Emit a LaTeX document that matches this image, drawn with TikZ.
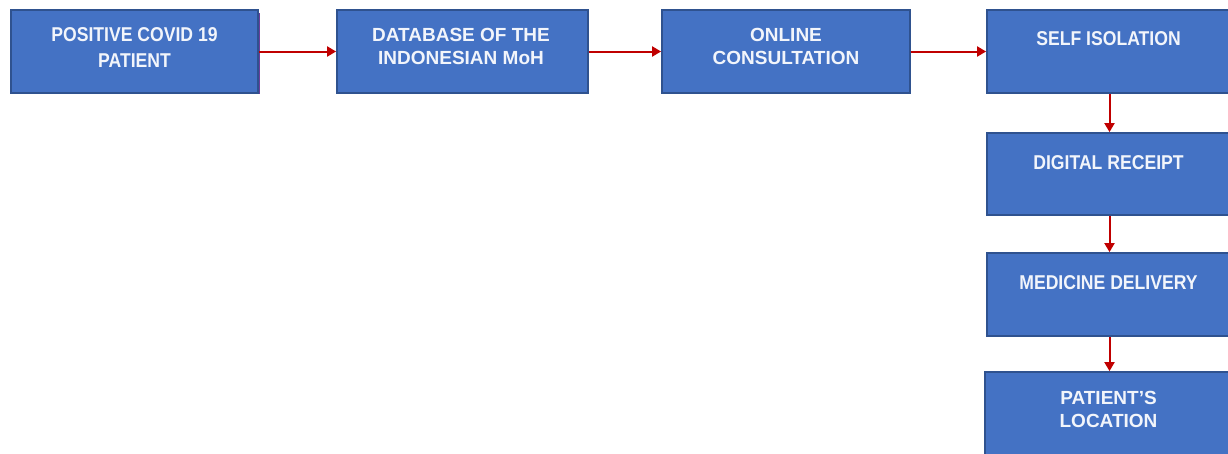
\documentclass[tikz,border=0pt]{standalone}
\usepackage{fontspec}
\setmainfont{Liberation Sans}
\newfontfamily\condfont{Liberation Sans}[FakeStretch=0.88]
\usetikzlibrary{arrows.meta}
\definecolor{boxfill}{HTML}{4472C4}
\definecolor{boxline}{HTML}{2F528F}
\definecolor{arrred}{HTML}{C00000}
\definecolor{txtc}{HTML}{F2F5FB}
\definecolor{shadowc}{HTML}{6A3D9A}
\begin{document}
\begin{tikzpicture}[x=1pt,y=-1pt,
  box/.style={draw=boxline, line width=1.8pt, fill=boxfill, rectangle, inner sep=0pt},
  condtxt/.style={text=txtc, align=center, inner sep=0pt, font=\condfont\bfseries\fontsize{20}{26}\selectfont},
  plaintxt/.style={text=txtc, align=center, inner sep=0pt, font=\bfseries\fontsize{19}{23}\selectfont},
  arr/.style={draw=arrred, line width=2pt, -{Triangle[length=9pt,width=10pt]}}]
\useasboundingbox (0,0) rectangle (1228,453);
\clip (0,0) rectangle (1228,453);
% shadow of first box
\fill[shadowc] (13,13) rectangle (259.5,94);
% top row
\node[box, minimum width=247pt, minimum height=83pt] (b1) at (134.5,51.5) {};
\node[box, minimum width=251pt, minimum height=83pt] (b2) at (462.5,51.5) {};
\node[box, minimum width=248pt, minimum height=83pt] (b3) at (786,51.5) {};
\node[box, minimum width=245pt, minimum height=83pt] (b4) at (1109.5,51.5) {};
% right column
\node[box, minimum width=245pt, minimum height=82pt] (b5) at (1109.5,174) {};
\node[box, minimum width=245pt, minimum height=83pt] (b6) at (1109.5,294.5) {};
\node[box, minimum width=247pt, minimum height=90pt] (b7) at (1108.5,417) {};
% texts
\node[condtxt] (t1) at (134.5,47.5) {POSITIVE COVID 19\\PATIENT};
\node[plaintxt] (t2) at (461,46) {DATABASE OF THE\\INDONESIAN MoH};
\node[plaintxt] (t3) at (786,46) {ONLINE\\CONSULTATION};
\node[condtxt] (t4) at (1108.5,38.5) {SELF ISOLATION};
\node[condtxt] (t5) at (1108.5,163) {DIGITAL RECEIPT};
\node[condtxt] (t6) at (1108.5,283) {MEDICINE DELIVERY};
\node[plaintxt] (t7) at (1108.5,409) {PATIENT'S\\LOCATION};
% connectors
\draw[arr] (b1.east) -- (b2.west);
\draw[arr] (b2.east) -- (b3.west);
\draw[arr] (b3.east) -- (b4.west);
\draw[arr] (b4.south) -- (b5.north);
\draw[arr] (b5.south) -- (b6.north);
\draw[arr] (b6.south) -- (b6.south |- b7.north);
\end{tikzpicture}
\end{document}
